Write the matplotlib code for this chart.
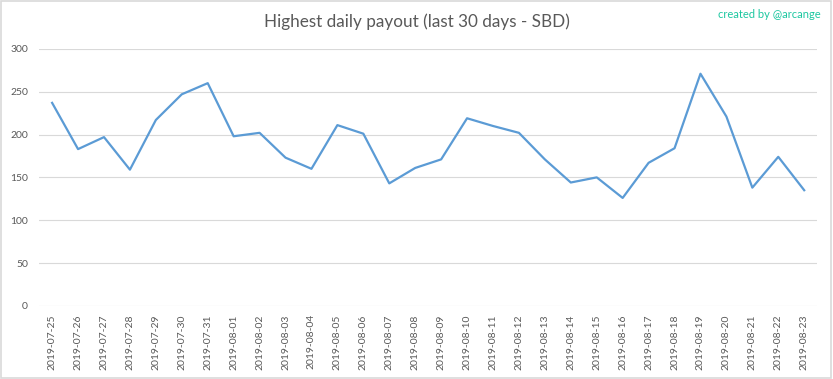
import matplotlib.pyplot as plt
import pandas as pd

# 数据
dates = pd.date_range("2019-07-25", "2019-08-23").strftime("%Y-%m-%d").tolist()
payout = [237, 183, 197, 159, 217, 247, 260, 198, 202, 173,
          160, 211, 201, 143, 161, 171, 219, 210, 202, 171,
          144, 150, 126, 167, 184, 271, 221, 138, 174, 135]
y_ticks = [0, 50, 100, 150, 200, 250, 300]

plt.rcParams["font.family"] = ["Lato", "DejaVu Sans"]

fig = plt.figure(figsize=(8.33, 3.79), dpi=100)
ax = fig.add_axes([0.047, 0.193, 0.934, 0.678])

x = range(len(dates))
ax.plot(x, payout, color="#5B9BD5", linewidth=1.6, solid_joinstyle="round")

ax.set_xlim(-0.5, len(dates) - 0.5)
ax.set_ylim(0, 300)
ax.set_yticks(y_ticks)
ax.set_xticks(list(x))
ax.set_xticklabels(dates, rotation=90)
ax.tick_params(axis="both", length=0, colors="#595959", labelsize=7.5)
ax.tick_params(axis="x", pad=6)
ax.tick_params(axis="y", pad=8)
ax.grid(axis="y", color="#D9D9D9", linewidth=0.8)
ax.set_axisbelow(True)
for s in ax.spines.values():
    s.set_visible(False)

# 标题和水印
fig.text(0.5, 0.942, "Highest daily payout (last 30 days - SBD)",
         ha="center", va="center", fontsize=12.3, color="#595959")
fig.text(0.985, 0.962, "created by @arcange", ha="right", va="center",
         fontsize=8, color="#1CC7A0")

# 外框
fig.patches.append(plt.Rectangle((0.001, 0.002), 0.997, 0.995, transform=fig.transFigure,
                                 fill=False, edgecolor="#D9D9D9", linewidth=1.2))

plt.savefig("out.png", format="png")
